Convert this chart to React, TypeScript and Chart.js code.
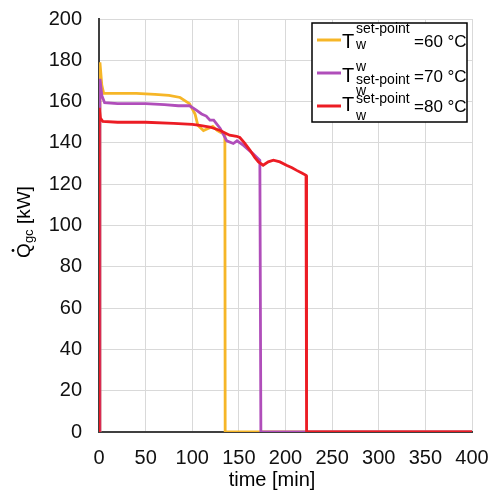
import React, { useEffect, useRef } from "react";
import { Chart, registerables } from "chart.js";

Chart.register(...registerables);

const FONT = "'Liberation Sans', Arial, sans-serif";

// Time [min] and heat rate [kW] per set-point series
const time60 = [0, 1, 3, 5, 20, 40, 60, 75, 87, 97, 103, 106, 112, 117, 122, 127, 131, 135, 135.3, 400];
const q60 = [0, 179, 168, 164, 164, 164, 163.5, 163, 162, 159, 154, 148.5, 146, 147, 148, 146, 145, 144.5, 0, 0];

const time70 = [0, 1, 3, 6, 20, 50, 70, 85, 97, 104, 110, 115, 119, 123, 130, 137, 144, 148, 155, 165, 172.5, 173.6, 400];
const q70 = [0, 171, 163, 159.5, 159, 159, 158.5, 158, 158, 156, 154, 153, 151, 151, 147, 141, 139.7, 141, 138.8, 134.8, 131.6, 0, 0];

const time80 = [0, 0.3, 1.5, 4, 20, 50, 80, 100, 108, 119, 130, 140, 147.6, 151, 156, 162, 167, 171, 176, 181.5, 187, 194, 201, 207, 212, 217, 222, 222.6, 400];
const q80 = [0, 157, 152, 150.4, 150, 150, 149.5, 149, 148.5, 147.7, 146, 143.7, 143.2, 142.6, 140, 136.4, 133, 130.8, 129.2, 130.8, 131.6, 130.8, 129.2, 128, 126.7, 125.5, 124.3, 0, 0];

const seriesValues = ["=60 °C", "=70 °C", "=80 °C"];
const seriesColors = ["#F6B628", "#B04EBA", "#EC1C24"];

const xTitle = "time [min]";
const yTitleMain = "Q";
const yTitleSub = "gc";
const yTitleUnit = " [kW]";

export default function App() {
  const ref = useRef<HTMLCanvasElement>(null);

  useEffect(() => {
    const canvas = ref.current!;
    const pts = (t: number[], q: number[]) => t.map((x, i) => ({ x, y: q[i] }));

    const overlay = {
      id: "overlay",
      afterDraw(chart: any) {
        const ctx = chart.ctx as CanvasRenderingContext2D;
        ctx.save();
        // Legend box
        ctx.fillStyle = "#fff";
        ctx.fillRect(312, 23, 155, 99);
        ctx.strokeStyle = "#000";
        ctx.lineWidth = 1.5;
        ctx.strokeRect(312, 23, 155, 99);

        const lineYs = [40, 73, 106];
        ctx.lineWidth = 3;
        lineYs.forEach((y, i) => {
          ctx.strokeStyle = seriesColors[i];
          ctx.beginPath();
          ctx.moveTo(317, y);
          ctx.lineTo(341, y);
          ctx.stroke();
        });

        ctx.fillStyle = "#000";
        ctx.textAlign = "left";
        ctx.textBaseline = "alphabetic";
        const big = `20px ${FONT}`;
        const small = `14px ${FONT}`;
        const val = `17px ${FONT}`;

        // Entry 1
        ctx.font = big; ctx.fillText("T", 342, 48);
        ctx.font = small; ctx.fillText("set-point", 356, 33); ctx.fillText("w", 356, 49);
        ctx.font = val; ctx.fillText(seriesValues[0], 414, 47);
        // Entry 2
        ctx.font = big; ctx.fillText("T", 342, 82);
        ctx.font = small; ctx.fillText("w", 356, 71); ctx.fillText("set-point", 356, 84);
        ctx.fillText("w", 356, 95);
        ctx.font = val; ctx.fillText(seriesValues[1], 414, 82);
        // Entry 3
        ctx.font = big; ctx.fillText("T", 342, 111);
        ctx.font = small; ctx.fillText("set-point", 356, 103); ctx.fillText("w", 356, 120);
        ctx.font = val; ctx.fillText(seriesValues[2], 414, 112);

        // X title
        ctx.font = `20px ${FONT}`;
        ctx.textAlign = "center";
        ctx.textBaseline = "middle";
        ctx.fillText(xTitle, 272, 480);

        // Y title (rotated)
        ctx.translate(30, 222);
        ctx.rotate(-Math.PI / 2);
        ctx.textAlign = "left";
        ctx.textBaseline = "alphabetic";
        const mainFont = `19px ${FONT}`;
        const subFont = `13px ${FONT}`;
        ctx.font = mainFont;
        const wQ = ctx.measureText(yTitleMain).width;
        const wU = ctx.measureText(yTitleUnit).width;
        ctx.font = subFont;
        const wS = ctx.measureText(yTitleSub).width;
        const total = wQ + wS + wU;
        let x0 = -total / 2;
        ctx.font = mainFont;
        ctx.fillText(yTitleMain, x0, 0);
        ctx.beginPath();
        ctx.arc(x0 + wQ / 2, -17, 1.4, 0, Math.PI * 2);
        ctx.fill();
        ctx.font = subFont;
        ctx.fillText(yTitleSub, x0 + wQ, 3);
        ctx.font = mainFont;
        ctx.fillText(yTitleUnit, x0 + wQ + wS, 0);
        ctx.restore();
      },
    };

    const ds = (label: string, t: number[], q: number[], color: string, order: number) => ({
      label,
      data: pts(t, q),
      borderColor: color,
      backgroundColor: color,
      borderWidth: 2.8,
      pointRadius: 0,
      tension: 0,
      fill: false,
      order,
    });

    const chart = new Chart(canvas, {
      type: "line",
      data: {
        datasets: [
          ds("60", time60, q60, seriesColors[0], 2),
          ds("70", time70, q70, seriesColors[1], 1),
          ds("80", time80, q80, seriesColors[2], 0),
        ],
      },
      options: {
        responsive: false,
        animation: false,
        devicePixelRatio: 1,
        layout: { padding: { top: 19, right: 19, left: 0, bottom: 0 } },
        plugins: { legend: { display: false }, tooltip: { enabled: false } },
        scales: {
          x: {
            type: "linear",
            min: 0,
            max: 400,
            ticks: { stepSize: 50, color: "#111", font: { family: FONT, size: 20 }, padding: 14, maxRotation: 0 },
            grid: { color: "#d9d9d9", lineWidth: 1, drawTicks: false },
            border: { color: "#404040", width: 2 },
            afterFit: (s: any) => { s.height = 61; s.paddingLeft = 0; s.paddingRight = 0; },
          },
          y: {
            min: 0,
            max: 200,
            ticks: { stepSize: 20, color: "#111", font: { family: FONT, size: 20 }, padding: 17 },
            grid: { color: "#d9d9d9", lineWidth: 1, drawTicks: false },
            border: { color: "#404040", width: 2 },
            afterFit: (s: any) => { s.width = 99; s.paddingTop = 0; s.paddingBottom = 0; },
          },
        },
      },
      plugins: [overlay],
    } as any);

    return () => chart.destroy();
  }, []);

  return (
    <div style={{ position: "fixed", left: 0, top: 0, width: 491, height: 493, background: "#fff" }}>
      <canvas ref={ref} width={491} height={493} style={{ width: 491, height: 493, display: "block" }} />
    </div>
  );
}
